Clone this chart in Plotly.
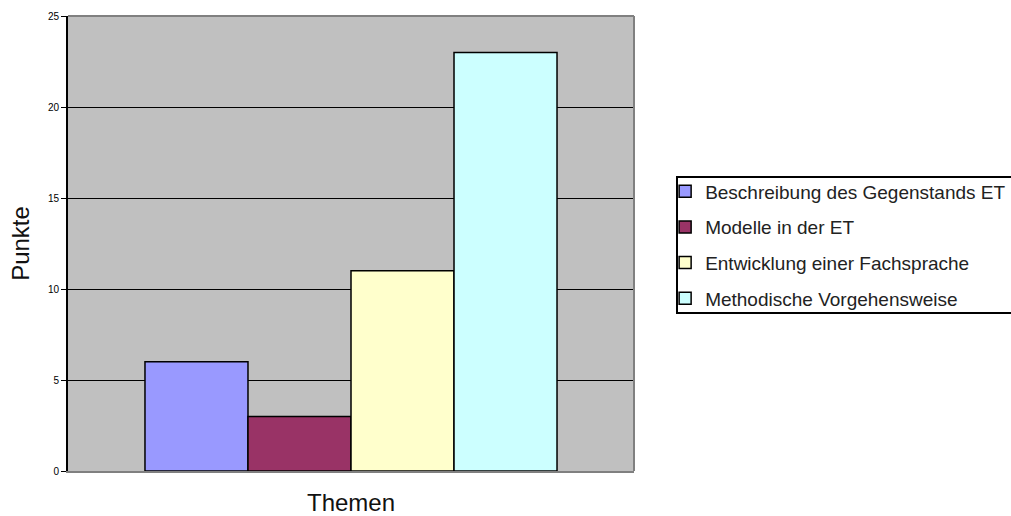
import plotly.graph_objects as go

series_names = ["Beschreibung des Gegenstands ET", "Modelle in der ET",
                "Entwicklung einer Fachsprache", "Methodische Vorgehensweise"]
values = [6, 3, 11, 23]
colors = ["#9999ff", "#993366", "#ffffcc", "#ccffff"]
category = ["Themen"]
y_ticks = [0, 5, 10, 15, 20, 25]

TITLE_FONT = dict(family="Liberation Sans", size=24, color="#111111")

fig = go.Figure()
for i, (name, v, c) in enumerate(zip(series_names, values, colors)):
    fig.add_trace(go.Bar(
        x=category, y=[v], name=name, legendgroup=f"g{i}",
        marker=dict(color=c, line=dict(color="black", width=1.5)),
    ))

fig.update_layout(
    width=1011, height=516,
    margin=dict(l=68, r=377, t=16, b=45, autoexpand=False),
    paper_bgcolor="white", plot_bgcolor="#c0c0c0",
    barmode="group", bargap=0.272, bargroupgap=0,
    showlegend=True,
    legend=dict(
        x=1.055, xanchor="left", y=0.497, yanchor="middle",
        bgcolor="rgba(0,0,0,0)", borderwidth=0,
        font=dict(family="Liberation Sans", size=19, color="#222222"),
        tracegroupgap=8, itemwidth=30,
    ),
    font=dict(family="Liberation Sans", color="black"),
)
fig.update_xaxes(
    showticklabels=False, ticks="", showgrid=False, automargin=False,
    showline=True, linecolor="#808080", linewidth=2,
    title=dict(text="Themen", font=TITLE_FONT, standoff=24),
)
fig.update_yaxes(
    range=[0, 25], tickvals=y_ticks, showgrid=True, gridcolor="black", gridwidth=1,
    showline=True, linecolor="black", linewidth=2, ticks="outside", ticklen=5,
    tickcolor="black", tickfont=dict(family="Liberation Sans", size=10, color="black"),
    zeroline=False, automargin=False,
    title=dict(text="Punkte", font=TITLE_FONT, standoff=11),
)
fig.add_shape(type="line", xref="paper", yref="paper", x0=0, x1=1, y0=1, y1=1,
              line=dict(color="#808080", width=2))
fig.add_shape(type="line", xref="paper", yref="paper", x0=1, x1=1, y0=0, y1=1,
              line=dict(color="#808080", width=2))
# legend frame (pixel position converted to paper coords)
fig.add_shape(type="rect", xref="paper", yref="paper",
              x0=(677 - 68) / 566, x1=(1020 - 68) / 566,
              y0=(471 - 313) / 455, y1=(471 - 177) / 455,
              line=dict(color="black", width=2), fillcolor="white", layer="below")

fig.write_html("out.html")
